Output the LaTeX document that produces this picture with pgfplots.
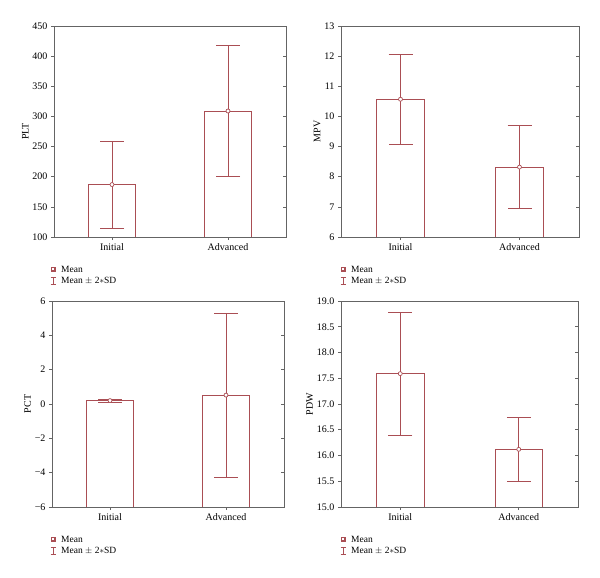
\documentclass[border=0pt]{standalone}
\usepackage{pgfplots}
\pgfplotsset{compat=1.18}
\usepackage{fontspec}
\setmainfont{Liberation Serif}
\definecolor{barred}{RGB}{170,78,84}
\definecolor{framegray}{RGB}{100,100,100}
\pgfplotsset{
  panel/.style={
    scale only axis,
    anchor=south west,
    xmin=-0.5, xmax=1.5,
    xtick={0,1}, xticklabels={Initial,Advanced},
    axis line style={framegray, line width=0.7pt},
    tick style={framegray, line width=0.6pt},
    tick align=outside,
    ytick pos=left,
    xtick pos=bottom,
    major tick length=3pt,
    ticklabel style={font=\fontsize{10}{11}\selectfont},
    label style={font=\fontsize{10}{11}\selectfont},
    /pgf/number format/assume math mode=true,
    ylabel shift=-3pt,
    clip=true,
  },
  rightticks/.style={
    scale only axis, anchor=south west,
    xmin=-0.5, xmax=1.5,
    axis line style={draw=none},
    xtick=\empty,
    ytick pos=right, tick align=inside,
    yticklabels={},
    tick style={framegray, line width=0.6pt},
    major tick length=3pt,
  },
  barbox/.style={draw=barred, line width=0.8pt, fill=white},
  errplot/.style={draw=barred, line width=0.8pt,
    mark=*, mark size=2pt, mark options={fill=white, draw=barred, line width=0.7pt},
    only marks,
    error bars/.cd, y dir=both, y explicit,
    error bar style={draw=barred, line width=0.8pt},
    error mark options={draw=barred, line width=0.8pt, mark size=12pt, rotate=90}},
}
\newcommand{\legendblock}[2]{%
  \node[anchor=west, inner sep=0pt, font=\fontsize{9.5}{10}\selectfont] at (#1+8pt,#2) {Mean};
  \fill[barred] (#1-2.5pt,#2-2.5pt) rectangle (#1+2.5pt,#2+2.5pt);
  \fill[white] (#1-1.2pt,#2-1.2pt) rectangle (#1+1.2pt,#2+1.2pt);
  \node[anchor=west, inner sep=0pt, font=\fontsize{9.5}{10}\selectfont] at (#1+8pt,#2-12pt) {Mean $\pm$ 2$*$SD};
  \draw[barred, line width=0.7pt] (#1,#2-15.5pt) -- (#1,#2-8.5pt)
     (#1-2.5pt,#2-15.5pt) -- (#1+2.5pt,#2-15.5pt)
     (#1-2.5pt,#2-8.5pt) -- (#1+2.5pt,#2-8.5pt);
}
\begin{document}
\begin{tikzpicture}
\path[use as bounding box] (0,0) rectangle (600pt,-578pt);
% ---------- PLT ----------
\begin{axis}[panel, at={(54pt,-237pt)}, width=232pt, height=211pt,
  ymin=100, ymax=450, ytick={100,150,...,450}, ylabel={PLT}]
\addplot[barbox] coordinates {(-0.2,100) (-0.2,187) (0.2,187) (0.2,100)};
\addplot[barbox] coordinates {(0.8,100) (0.8,309) (1.2,309) (1.2,100)};
\addplot[errplot] coordinates {(0,187) +- (0,72) (1,309) +- (0,109)};
\end{axis}
\begin{axis}[rightticks, at={(54pt,-237pt)}, width=232pt, height=211pt,
  ymin=100, ymax=450, ytick={100,150,...,450}]
\addplot[draw=none] coordinates {(0,200)};
\end{axis}
% ---------- MPV ----------
\begin{axis}[panel, at={(341pt,-237pt)}, width=238pt, height=211pt,
  ymin=6, ymax=13, ytick={6,...,13}, ylabel={MPV}]
\addplot[barbox] coordinates {(-0.2,6) (-0.2,10.57) (0.2,10.57) (0.2,6)};
\addplot[barbox] coordinates {(0.8,6) (0.8,8.32) (1.2,8.32) (1.2,6)};
\addplot[errplot] coordinates {(0,10.57) +- (0,1.49) (1,8.32) +- (0,1.37)};
\end{axis}
\begin{axis}[rightticks, at={(341pt,-237pt)}, width=238pt, height=211pt,
  ymin=6, ymax=13, ytick={6,...,13}]
\addplot[draw=none] coordinates {(0,8)};
\end{axis}
% ---------- PCT ----------
\begin{axis}[panel, at={(52pt,-507pt)}, width=232pt, height=206pt,
  ymin=-6, ymax=6, ytick={-6,-4,...,6}, ylabel={PCT},
  yticklabels={−6,−4,−2,0,2,4,6}]
\addplot[barbox] coordinates {(-0.2,-6) (-0.2,0.2) (0.2,0.2) (0.2,-6)};
\addplot[barbox] coordinates {(0.8,-6) (0.8,0.52) (1.2,0.52) (1.2,-6)};
\addplot[errplot] coordinates {(0,0.2) +- (0,0.08) (1,0.52) +- (0,4.78)};
\end{axis}
\begin{axis}[rightticks, at={(52pt,-507pt)}, width=232pt, height=206pt,
  ymin=-6, ymax=6, ytick={-6,-4,...,6}]
\addplot[draw=none] coordinates {(0,0)};
\end{axis}
% ---------- PDW ----------
\begin{axis}[panel, at={(341pt,-507pt)}, width=237pt, height=206pt,
  ymin=15, ymax=19, ytick={15,15.5,...,19}, ylabel={PDW},
  yticklabel style={/pgf/number format/.cd, fixed, fixed zerofill, precision=1}]
\addplot[barbox] coordinates {(-0.2,15) (-0.2,17.59) (0.2,17.59) (0.2,15)};
\addplot[barbox] coordinates {(0.8,15) (0.8,16.12) (1.2,16.12) (1.2,15)};
\addplot[errplot] coordinates {(0,17.59) +- (0,1.19) (1,16.12) +- (0,0.62)};
\end{axis}
\begin{axis}[rightticks, at={(341pt,-507pt)}, width=237pt, height=206pt,
  ymin=15, ymax=19, ytick={15,15.5,...,19}]
\addplot[draw=none] coordinates {(0,16)};
\end{axis}
% ---------- legends ----------
\legendblock{53pt}{-269pt}
\legendblock{343pt}{-269pt}
\legendblock{53pt}{-539pt}
\legendblock{343pt}{-539pt}
\end{tikzpicture}
\end{document}
